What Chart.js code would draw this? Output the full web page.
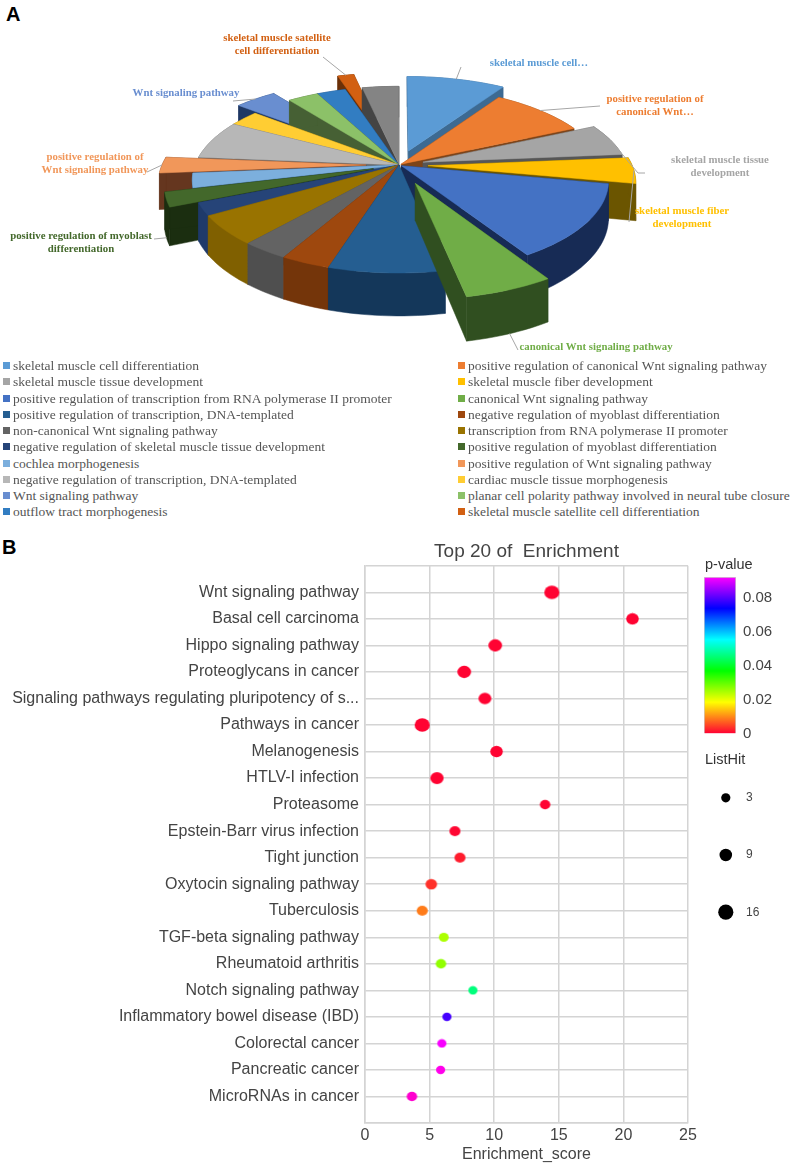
<!DOCTYPE html>
<html>
<head>
<meta charset="utf-8">
<title>GO and KEGG enrichment</title>
<script src="https://cdn.jsdelivr.net/npm/chart.js@4"></script>
<style>
    html, body { margin: 0; padding: 0; background: #fff; }
    #page { position: relative; width: 798px; height: 1163px; overflow: hidden; }
    #page canvas { position: absolute; }
    .panel { position: absolute; font: bold 20px "Liberation Sans", sans-serif; color: #000; line-height: 1; }
    .callout { position: absolute; font: bold 10.8px/13px "Liberation Serif", serif; text-align: center; white-space: nowrap; transform: translate(-50%, -50%); }
    .key { position: absolute; font: 13.5px/16px "Liberation Serif", serif; color: #555; white-space: nowrap; transform: translateY(-50%); }
    .key i { position: absolute; left: -10px; top: 4px; width: 7px; height: 7px; }
    .heading { position: absolute; font: 14.5px/16px "Liberation Sans", sans-serif; color: #333; transform: translateY(-50%); }
</style>
</head>
<body>
<div id="page">
    <div class="panel" style="left:6px;top:4px">A</div>
    <div class="panel" style="left:2px;top:537px">B</div>
    <canvas id="pieChart" width="798" height="370" style="left:0;top:0"></canvas>
    <canvas id="dotChart" width="798" height="634" style="left:0;top:530px"></canvas>
    <canvas id="colorbarChart" width="90" height="195" style="left:700px;top:555px"></canvas>
    <canvas id="sizeChart" width="90" height="190" style="left:700px;top:760px"></canvas>
    <div class="heading" style="left:705px;top:564px">p-value</div>
    <div class="heading" style="left:705px;top:759px">ListHit</div>
</div>

<script>
// Panel A: GO terms (the last, grey slice has no entry in the original legend)
const goTerms = [
    'skeletal muscle cell differentiation',
    'positive regulation of canonical Wnt signaling pathway',
    'skeletal muscle tissue development',
    'skeletal muscle fiber development',
    'positive regulation of transcription from RNA polymerase II promoter',
    'canonical Wnt signaling pathway',
    'positive regulation of transcription, DNA-templated',
    'negative regulation of myoblast differentiation',
    'non-canonical Wnt signaling pathway',
    'transcription from RNA polymerase II promoter',
    'negative regulation of skeletal muscle tissue development',
    'positive regulation of myoblast differentiation',
    'cochlea morphogenesis',
    'positive regulation of Wnt signaling pathway',
    'negative regulation of transcription, DNA-templated',
    'cardiac muscle tissue morphogenesis',
    'Wnt signaling pathway',
    'planar cell polarity pathway involved in neural tube closure',
    'outflow tract morphogenesis',
    'skeletal muscle satellite cell differentiation',
    ''
];
const goShares = [33, 32, 20, 16, 47, 21, 28, 12, 11.5, 18.5, 8, 9, 9, 10, 24, 10, 14, 10, 9.5, 5.5, 12];
const goColors = [
    '#5B9BD5', '#ED7D31', '#A5A5A5', '#FFC000', '#4472C4', '#70AD47', '#255E91',
    '#9E480E', '#636363', '#997300', '#264478', '#43682B', '#7CAFDD', '#F1975A',
    '#B7B7B7', '#FFCD33', '#698ED0', '#8CC168', '#327DC2', '#D26012', '#848484'
];
const goWallColors = [
    '#3D6A92', '#7D4419', '#565656', '#6B5500', '#172B55', '#304F20', '#14375A',
    '#74350A', '#4F4F4F', '#806000', '#1F3A6A', '#1B2E10', '#3D6A92', '#65361F',
    '#666666', '#7F6000', '#1F3864', '#466034', '#1A4570', '#6B3008', '#444444'
];
const goExplode = [34, 3, 25, 29, 3, 43, 0, 0, 0, 0, 0, 27, 0, 33, 0, 0, 30, 2, 2, 45, 2];

// Panel B: KEGG pathways
const pathways = [
    'Wnt signaling pathway', 'Basal cell carcinoma', 'Hippo signaling pathway',
    'Proteoglycans in cancer', 'Signaling pathways regulating pluripotency of s...',
    'Pathways in cancer', 'Melanogenesis', 'HTLV-I infection', 'Proteasome',
    'Epstein-Barr virus infection', 'Tight junction', 'Oxytocin signaling pathway',
    'Tuberculosis', 'TGF-beta signaling pathway', 'Rheumatoid arthritis',
    'Notch signaling pathway', 'Inflammatory bowel disease (IBD)', 'Colorectal cancer',
    'Pancreatic cancer', 'MicroRNAs in cancer'
];
const enrichmentScore = [14.46, 20.7, 10.08, 7.68, 9.28, 4.43, 10.18, 5.57, 13.94, 6.96,
    7.35, 5.13, 4.43, 6.1, 5.88, 8.35, 6.34, 5.95, 5.85, 3.63];
const pValues = [0.0002, 0.0002, 0.0002, 0.0002, 0.0002, 0.0002, 0.0002, 0.0002, 0.0002, 0.0005,
    0.002, 0.0035, 0.009, 0.0245, 0.0265, 0.046, 0.079, 0.092, 0.094, 0.096];
const listHits = [16, 9, 12, 12, 10, 16, 9, 11, 5, 6, 6, 7, 6, 4, 5, 3, 3, 3, 3, 5];
const sizeKeyHits = [3, 9, 16];

// p-value colour scale, bottom to top of the colour bar
const pValueMax = 0.0925;
const colorStops = [
    [0, '#ff0033'], [0.0185, '#ffff00'], [0.037, '#00ff00'], [0.0555, '#00ffff'],
    [0.074, '#0000ff'], [0.0925, '#ff00ff'], [0.1, '#ff0099']
];

// Labels around the pie: slice index, text position, leader line end
const callouts = [
    { slice: 0, lines: ['skeletal muscle cell…'], x: 539, y: 62, to: [[461, 67]] },
    { slice: 1, lines: ['positive regulation of', 'canonical Wnt…'], x: 655, y: 105, to: [[600, 106]] },
    { slice: 2, lines: ['skeletal muscle tissue', 'development'], x: 720, y: 166, to: [[638, 173], [645, 173]] },
    { slice: 3, lines: ['skeletal muscle fiber', 'development'], x: 682, y: 217, to: [[629, 222]] },
    { slice: 5, lines: ['canonical Wnt  signaling pathway'], x: 596, y: 346, to: [[518, 350]] },
    { slice: 11, lines: ['positive regulation of myoblast', 'differentiation'], x: 81, y: 242, to: [[154, 239]] },
    { slice: 13, lines: ['positive regulation of', 'Wnt signaling pathway'], x: 95, y: 163, to: [[147, 172]] },
    { slice: 16, lines: ['Wnt  signaling pathway'], x: 186, y: 92, to: [[233, 101]] },
    { slice: 19, lines: ['skeletal muscle satellite', 'cell differentiation'], x: 277, y: 44, to: [[323, 57]] }
];

const page = document.getElementById('page');

// Interpolate the colour scale for one p-value
function pValueColor(p) {
    for (let i = 1; i < colorStops.length; i++) {
        if (p <= colorStops[i][0]) {
            const [p0, c0] = colorStops[i - 1];
            const [p1, c1] = colorStops[i];
            const t = (p - p0) / (p1 - p0);
            const a = parseInt(c0.slice(1), 16);
            const b = parseInt(c1.slice(1), 16);
            const mix = shift => Math.round((a >> shift & 255) * (1 - t) + (b >> shift & 255) * t);
            return `rgb(${mix(16)}, ${mix(8)}, ${mix(0)})`;
        }
    }
    return colorStops[colorStops.length - 1][1];
}

// Dot radius for a ListHit count, fitted to the size key
function hitRadius(hits) {
    return 2.3 + 1.32 * Math.sqrt(hits);
}

// The dots of the original are slightly squashed, so use an ellipse as point style
function ellipseStyle(color, radius) {
    const canvas = document.createElement('canvas');
    canvas.width = Math.round(radius * 2) + 2;
    canvas.height = Math.round(radius * 2 * 0.9) + 2;
    const ctx = canvas.getContext('2d');
    ctx.fillStyle = color;
    ctx.beginPath();
    ctx.ellipse(canvas.width / 2, canvas.height / 2, radius, radius * 0.9, 0, 0, Math.PI * 2);
    ctx.fill();
    return canvas;
}

// Draws the library's arc elements as a tilted, extruded pie
const pie3dPlugin = {
    id: 'pie3d',
    depth: 36,
    tilt: 0.444,
    perspective: 6.2,

    project(arc, x, y, z) {
        const f = arc.outerRadius * this.perspective;
        const s = f / (f - y);
        return [arc.x + x * s, arc.y + (y * this.tilt + z) * s];
    },

    polygon(ctx, points, fill) {
        ctx.beginPath();
        points.forEach((p, i) => i ? ctx.lineTo(p[0], p[1]) : ctx.moveTo(p[0], p[1]));
        ctx.closePath();
        ctx.fillStyle = fill;
        ctx.strokeStyle = fill;
        ctx.lineWidth = 0.5;
        ctx.fill();
        ctx.stroke();
    },

    // 3D outline of one slice, in pie coordinates
    outline(arc) {
        const mid = (arc.startAngle + arc.endAngle) / 2;
        const ox = Math.cos(mid) * arc.options.offset;
        const oy = Math.sin(mid) * arc.options.offset;
        const rim = [];
        const steps = Math.max(2, Math.ceil((arc.endAngle - arc.startAngle) / 0.03));
        for (let i = 0; i <= steps; i++) {
            const a = arc.startAngle + (arc.endAngle - arc.startAngle) * i / steps;
            rim.push([ox + Math.cos(a) * arc.outerRadius, oy + Math.sin(a) * arc.outerRadius]);
        }
        return { ox, oy, mid, rim };
    },

    drawSlice(ctx, arc, color, wall) {
        const { ox, oy, rim } = this.outline(arc);
        const top = rim.map(p => this.project(arc, p[0], p[1], 0));
        const bottom = rim.map(p => this.project(arc, p[0], p[1], this.depth));
        const apexTop = this.project(arc, ox, oy, 0);
        const apexBottom = this.project(arc, ox, oy, this.depth);

        // Radial faces, outer wall, then the top of the slice
        this.polygon(ctx, [apexTop, top[0], bottom[0], apexBottom], wall);
        this.polygon(ctx, [apexTop, top[top.length - 1], bottom[bottom.length - 1], apexBottom], wall);
        this.polygon(ctx, top.concat(bottom.slice().reverse()), wall);
        this.polygon(ctx, [apexTop].concat(top), color);
    },

    beforeDatasetDraw(chart) {
        const ctx = chart.ctx;
        const arcs = chart.getDatasetMeta(0).data;
        const order = arcs.map((arc, i) => {
            const { oy, mid } = this.outline(arc);
            return { i, arc, sortKey: oy + Math.sin(mid) * arc.outerRadius * 0.6 };
        }).sort((a, b) => a.sortKey - b.sortKey);

        ctx.save();
        order.forEach(item => this.drawSlice(ctx, item.arc, goColors[item.i], goWallColors[item.i]));
        ctx.restore();
        return false;
    },

    // Leader lines from the slice rim to the labels
    afterDatasetsDraw(chart) {
        const ctx = chart.ctx;
        const arcs = chart.getDatasetMeta(0).data;
        ctx.save();
        ctx.strokeStyle = '#a6a6a6';
        ctx.lineWidth = 1;
        callouts.forEach(c => {
            const arc = arcs[c.slice];
            const { ox, oy, mid } = this.outline(arc);
            const rimX = ox + Math.cos(mid) * arc.outerRadius;
            const rimY = oy + Math.sin(mid) * arc.outerRadius;
            const start = this.project(arc, rimX, rimY, Math.sin(mid) > 0.3 ? this.depth : 0);
            ctx.beginPath();
            ctx.moveTo(start[0], start[1]);
            c.to.forEach(p => ctx.lineTo(p[0], p[1]));
            ctx.stroke();
        });
        ctx.restore();
    }
};

// Create the 3D pie of GO terms
function createPieChart() {
    new Chart(document.getElementById('pieChart'), {
        type: 'pie',
        data: {
            labels: goTerms,
            datasets: [{
                data: goShares,
                backgroundColor: goColors,
                offset: goExplode,
                borderWidth: 0
            }]
        },
        options: {
            responsive: false,
            animation: false,
            radius: 204,
            layout: { padding: { bottom: 40 } },
            plugins: { legend: { display: false }, tooltip: { enabled: false } }
        },
        plugins: [pie3dPlugin]
    });

    callouts.forEach(c => {
        const el = document.createElement('div');
        el.className = 'callout';
        el.style.left = c.x + 'px';
        el.style.top = c.y + 'px';
        el.style.color = goColors[c.slice];
        el.innerHTML = c.lines.join('<br>');
        page.appendChild(el);
    });
}

// Two column legend under the pie
function createPieLegend() {
    goTerms.filter(term => term).forEach((term, i) => {
        const el = document.createElement('div');
        el.className = 'key';
        el.style.left = (i % 2 ? 468 : 13) + 'px';
        el.style.top = (366 + Math.floor(i / 2) * 16.26) + 'px';
        el.textContent = term;
        const swatch = document.createElement('i');
        swatch.style.background = goColors[i];
        el.appendChild(swatch);
        page.appendChild(el);
    });
}

// Create the dot plot of KEGG pathways
function createDotChart() {
    const dotStyles = pathways.map((name, i) => ellipseStyle(pValueColor(pValues[i]), hitRadius(listHits[i])));

    new Chart(document.getElementById('dotChart'), {
        type: 'bubble',
        data: {
            datasets: [{
                data: pathways.map((name, i) => ({
                    x: enrichmentScore[i],
                    y: i + 1,
                    r: hitRadius(listHits[i])
                })),
                backgroundColor: pValues.map(pValueColor),
                pointStyle: context => dotStyles[context.dataIndex],
                borderWidth: 0
            }]
        },
        options: {
            responsive: false,
            animation: false,
            layout: { padding: { right: 110 } },
            scales: {
                x: {
                    min: 0,
                    max: 25,
                    afterFit: scale => { scale.height = 41; },
                    ticks: { stepSize: 5, color: '#444', font: { family: 'Liberation Sans', size: 16 }, maxRotation: 0, padding: 3 },
                    grid: { color: '#d4d4d4', lineWidth: 1.5, drawTicks: false },
                    border: { color: '#d4d4d4', width: 1.5 },
                    title: { display: true, text: 'Enrichment_score', color: '#444', font: { family: 'Liberation Sans', size: 16 }, padding: { top: 0, bottom: 0 } }
                },
                y: {
                    min: 0,
                    max: 21,
                    reverse: true,
                    afterFit: scale => { scale.width = 365; },
                    ticks: {
                        stepSize: 1,
                        autoSkip: false,
                        color: '#444',
                        padding: 6,
                        font: { family: 'Liberation Sans', size: 16 },
                        callback: value => pathways[value - 1] || ''
                    },
                    grid: { color: '#d4d4d4', lineWidth: 1.5, drawTicks: false },
                    border: { color: '#d4d4d4', width: 1.5 }
                }
            },
            plugins: {
                legend: { display: false },
                tooltip: { enabled: false },
                title: {
                    display: true,
                    fullSize: false,
                    text: 'Top 20 of  Enrichment',
                    color: '#444',
                    font: { family: 'Liberation Sans', size: 19, weight: 'normal' },
                    padding: { top: 10, bottom: 3 }
                }
            }
        }
    });
}

// Colour bar for the p-value, a single bar on its own axis
function createColorbarChart() {
    new Chart(document.getElementById('colorbarChart'), {
        type: 'bar',
        data: {
            labels: ['p-value'],
            datasets: [{
                data: [pValueMax],
                barPercentage: 1,
                categoryPercentage: 1,
                borderWidth: 1,
                borderColor: '#cccccc',
                backgroundColor: context => {
                    const area = context.chart.chartArea;
                    if (!area) return colorStops[0][1];
                    const gradient = context.chart.ctx.createLinearGradient(0, area.bottom, 0, area.top);
                    colorStops.filter(stop => stop[0] <= pValueMax).forEach(stop => {
                        gradient.addColorStop(stop[0] / pValueMax, stop[1]);
                    });
                    return gradient;
                }
            }]
        },
        options: {
            responsive: false,
            animation: false,
            layout: { padding: { left: 4, top: 22, bottom: 16.5 } },
            scales: {
                x: { display: false },
                y: {
                    position: 'right',
                    min: 0,
                    max: pValueMax,
                    afterFit: scale => { scale.width = 54; },
                    afterBuildTicks: scale => { scale.ticks = scale.ticks.filter(t => t.value <= 0.08); },
                    ticks: {
                        stepSize: 0.02,
                        color: '#444',
                        padding: 7,
                        font: { family: 'Liberation Sans', size: 15 },
                        callback: value => value === 0 ? '0' : value.toFixed(2)
                    },
                    grid: { display: false, drawTicks: false },
                    border: { display: false }
                }
            },
            plugins: { legend: { display: false }, tooltip: { enabled: false } }
        }
    });
}

// Size key for ListHit
function createSizeChart() {
    new Chart(document.getElementById('sizeChart'), {
        type: 'bubble',
        data: {
            labels: sizeKeyHits.map(String),
            datasets: [{
                data: sizeKeyHits.map(hits => ({ x: 0.5, y: String(hits), r: hitRadius(hits) })),
                backgroundColor: '#000',
                borderWidth: 0
            }]
        },
        options: {
            responsive: false,
            animation: false,
            layout: { padding: { left: 4, top: 7.5, bottom: 7 } },
            scales: {
                x: { display: false, min: 0, max: 1 },
                y: {
                    type: 'category',
                    position: 'right',
                    offset: true,
                    afterFit: scale => { scale.width = 46; },
                    ticks: { color: '#444', padding: 2, font: { family: 'Liberation Sans', size: 12 } },
                    grid: { display: false, drawTicks: false },
                    border: { display: false }
                }
            },
            plugins: { legend: { display: false }, tooltip: { enabled: false } }
        }
    });
}

document.addEventListener('DOMContentLoaded', function() {
    createPieChart();
    createPieLegend();
    createDotChart();
    createColorbarChart();
    createSizeChart();
});
</script>
</body>
</html>
